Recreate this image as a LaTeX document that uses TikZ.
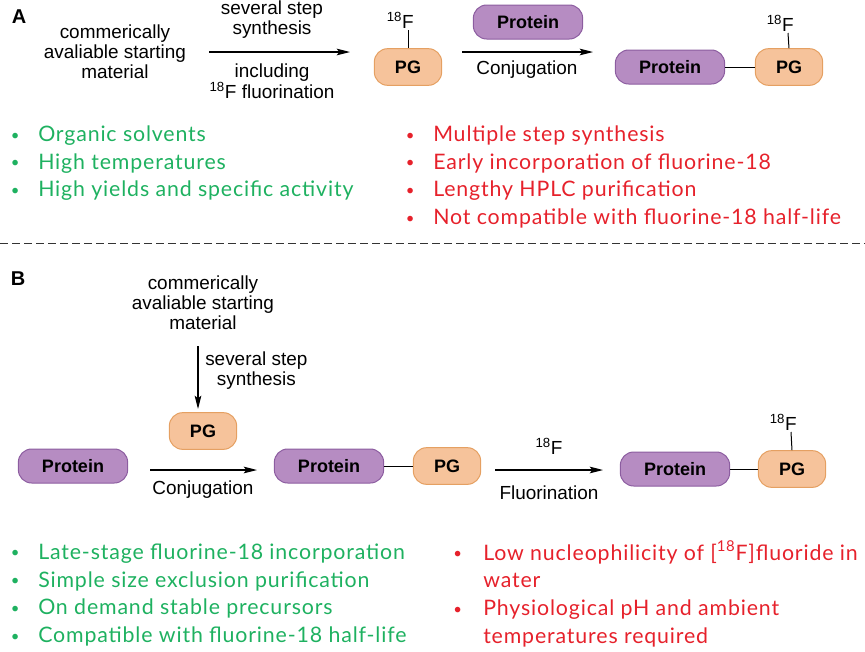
\documentclass[tikz,border=0pt]{standalone}
\usepackage{fontspec}
\setmainfont{Liberation Sans}
\newfontfamily\listfont[LetterSpace=4.0]{Lato}
\usetikzlibrary{arrows.meta}
\definecolor{pgfill}{HTML}{F6C39B}
\definecolor{pgdraw}{HTML}{E5A062}
\definecolor{protfill}{HTML}{B68CC2}
\definecolor{protdraw}{HTML}{8C5DA0}
\definecolor{prosgreen}{HTML}{1EB160}
\definecolor{consred}{HTML}{E6212B}
\newcommand{\itm}[1][14pt]{\llap{\raisebox{1pt}{\scalebox{0.7}{\textbullet}}\hspace{#1}}}
\newcommand{\Fiso}{\textsuperscript{18}F}
\tikzset{
  box/.style={line width=0.75pt,rounded corners=10pt,inner sep=0pt,font=\fontsize{13.5}{14}\selectfont\bfseries},
  pg/.style={box,draw=pgdraw,fill=pgfill,minimum width=50.5pt,minimum height=27.5pt},
  protein/.style={box,draw=protdraw,fill=protfill,minimum width=82pt,minimum height=25.5pt},
  lbl/.style={font=\fontsize{14.2}{15}\selectfont,align=center,inner sep=0pt},
  fl/.style={font=\fontsize{14.2}{15}\selectfont,anchor=south,inner sep=1pt},
  pros/.style={text=prosgreen,anchor=base west,inner sep=0pt,font=\listfont\fontsize{16}{20.8}\selectfont},
  cons/.style={pros,text=consred},
  rxn/.style={-{Stealth[length=10pt,width=5pt,inset=2pt]},line width=0.9pt},
  bond/.style={line width=0.75pt},
}
\begin{document}
\begin{tikzpicture}[x=0.75pt,y=-0.75pt]
	%\draw[step=10,gray!20] (0,0) grid (865,651); %pixel grid
	\useasboundingbox (0,0) rectangle (865,651);
	% A
	\node[font=\fontsize{15}{15}\selectfont\bfseries,inner sep=0pt] (A) at (19,17) {A};
	\node[lbl] (startA) at (115,52) {commerically\\avaliable starting\\material};
	\coordinate (a1s) at (209,52); \coordinate (a1e) at (350,52);
	\draw[rxn] (a1s) -- (a1e);
	\node[lbl] (stepA) at (272,20) {several step\\synthesis};
	\node[lbl] (inclA) at (272,81) {including\\\Fiso{} fluorination};
	\node[pg] (pgA1) at (408,67) {PG};
	\node[fl] (fA1) at (408,30) {\llap{\textsuperscript{18}}F};
	\draw[bond] (fA1.south) -- (pgA1.north);
	\node[protein] (protA1) at (528,22) {Protein};
	\coordinate (a2s) at (462,52); \coordinate (a2e) at (593,52);
	\draw[rxn] (a2s) -- (a2e);
	\node[lbl] (conjA) at (527,70) {Conjugation};
	\node[protein] (protA2) at (670,67) {Protein};
	\node[pg] (pgA2) at (789,67) {PG};
	\draw[bond] (protA2) -- (pgA2);
	\node[fl] (fA2) at (788,33) {\llap{\textsuperscript{18}}F};
	\draw[bond] (fA2.south) -- (pgA2.north);
	\node[pros] (prosA) at (38,141.5) {\begin{tabular}[t]{@{}l@{}}\itm Organic solvents\\ \itm High temperatures\\ \itm High yields and specific activity\end{tabular}};
	\node[cons] (consA) at (433,141.5) {\begin{tabular}[t]{@{}l@{}}\itm Multiple step synthesis\\ \itm Early incorporation of fluorine-18\\ \itm Lengthy HPLC purification\\ \itm Not compatible with fluorine-18 half-life\end{tabular}};
	\draw[dash pattern=on 6pt off 3pt,line width=0.75pt,black!80] (0,243) -- (865,243);
	% B
	\node[font=\fontsize{15}{15}\selectfont\bfseries,inner sep=0pt] (B) at (18,279) {B};
	\node[lbl] (startB) at (203,303) {commerically\\avaliable starting\\material};
	\coordinate (b0s) at (198,346); \coordinate (b0e) at (198,409);
	\draw[rxn] (b0s) -- (b0e);
	\node[lbl,anchor=west] (stepB) at (205,371) {several step\\synthesis};
	\node[pg] (pgB0) at (203,431) {PG};
	\node[protein] (protB1) at (73,466) {Protein};
	\coordinate (b1s) at (150,470); \coordinate (b1e) at (257,470);
	\draw[rxn] (b1s) -- (b1e);
	\node[lbl] (conjB) at (203,490) {Conjugation};
	\node[protein] (protB2) at (329,466) {Protein};
	\node[pg] (pgB2) at (447,466) {PG};
	\draw[bond] (protB2) -- (pgB2);
	\coordinate (b2s) at (495,470); \coordinate (b2e) at (603,470);
	\draw[rxn] (b2s) -- (b2e);
	\node[lbl] (fB) at (549,446) {\Fiso};
	\node[lbl] (fluorB) at (549,493) {Fluorination};
	\node[protein] (protB3) at (675,469) {Protein};
	\node[pg] (pgB3) at (792,469) {PG};
	\draw[bond] (protB3) -- (pgB3);
	\node[fl] (fB3) at (791,432) {\llap{\textsuperscript{18}}F};
	\draw[bond] (fB3.south) -- (pgB3.north);
	\node[pros] (prosB) at (38,559.3) {\begin{tabular}[t]{@{}l@{}}\itm Late-stage fluorine-18 incorporation\\ \itm Simple size exclusion purification\\ \itm On demand stable precursors\\ \itm Compatible with fluorine-18 half-life\end{tabular}};
	\node[cons] (consB) at (483,560) {\begin{tabular}[t]{@{}l@{}}\itm[16pt]Low nucleophilicity of [\textsuperscript{18}F]fluoride in\\ water\\ \itm[16pt]Physiological pH and ambient\\ temperatures required\end{tabular}};
\end{tikzpicture}
\end{document}
